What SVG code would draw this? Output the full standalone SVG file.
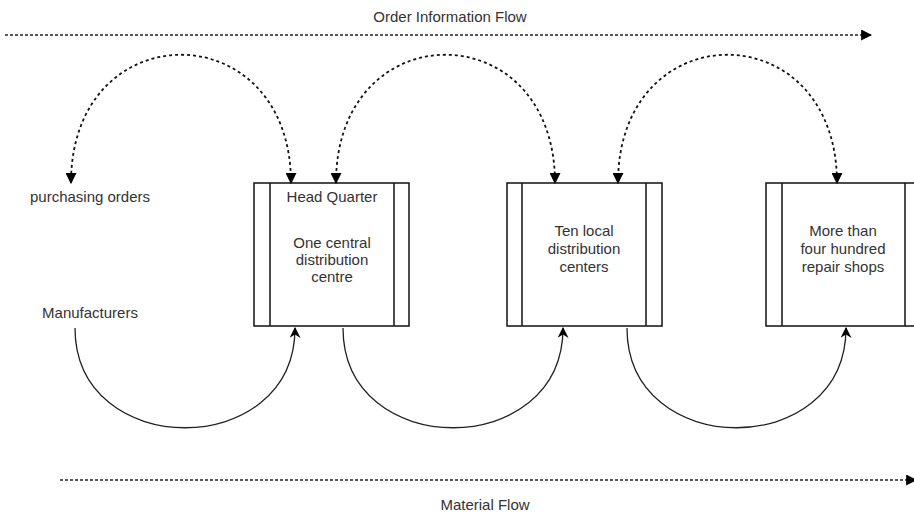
<svg xmlns="http://www.w3.org/2000/svg" width="914" height="515" viewBox="0 0 914 515">
<defs>
<marker id="ah" viewBox="0 0 10 10" refX="9" refY="5" markerWidth="11" markerHeight="11" markerUnits="userSpaceOnUse" orient="auto-start-reverse">
<path d="M0,0 L10,5 L0,10 Z" fill="#000"/>
</marker>
<marker id="ahs" viewBox="0 0 10 10" refX="9" refY="5" markerWidth="11" markerHeight="11" markerUnits="userSpaceOnUse" orient="auto">
<path d="M0,0 L10,5 L0,10 L3,5 Z" fill="#000"/>
</marker>
<style>
text{font-family:"Liberation Sans",Arial,sans-serif;font-size:15px;fill:#333;text-anchor:middle}
.box{fill:#fff;stroke:#111;stroke-width:1.5}
.dash{fill:none;stroke:#111;stroke-width:1.8;stroke-dasharray:3 3}
.flow{fill:none;stroke:#222;stroke-width:1.5;stroke-dasharray:3 2}
.solid{fill:none;stroke:#222;stroke-width:1.3}
</style>
</defs>
<rect width="914" height="515" fill="#fff"/>
<g id="labels">
<text x="450" y="22">Order Information Flow</text>
<text x="485" y="510">Material Flow</text>
<text x="90" y="202">purchasing orders</text>
<text x="90" y="318">Manufacturers</text>
</g>
<g id="node-hq">
<rect class="box" x="254" y="183" width="155" height="143"/>
<line class="box" x1="270" y1="183" x2="270" y2="326"/>
<line class="box" x1="394" y1="183" x2="394" y2="326"/>
<text x="332" y="202">Head Quarter</text>
<text x="332" y="248">One central</text>
<text x="332" y="265">distribution</text>
<text x="332" y="282">centre</text>
</g>
<g id="node-ldc">
<rect class="box" x="507" y="183" width="155" height="143"/>
<line class="box" x1="522" y1="183" x2="522" y2="326"/>
<line class="box" x1="646" y1="183" x2="646" y2="326"/>
<text x="584" y="236">Ten local</text>
<text x="584" y="254">distribution</text>
<text x="584" y="272">centers</text>
</g>
<g id="node-shops">
<rect class="box" x="766" y="183" width="155" height="143"/>
<line class="box" x1="782" y1="183" x2="782" y2="326"/>
<line class="box" x1="905" y1="183" x2="905" y2="326"/>
<text x="843" y="236">More than</text>
<text x="843" y="254">four hundred</text>
<text x="843" y="272">repair shops</text>
</g>
<g id="connectors">
<line class="flow" x1="5" y1="35" x2="871" y2="35" marker-end="url(#ah)"/>
<line class="flow" x1="60" y1="480" x2="916" y2="480" marker-end="url(#ah)"/>
<path class="dash" d="M291 183 C291 12, 71 12, 71 183" marker-start="url(#ah)" marker-end="url(#ah)"/>
<path class="dash" d="M336 183 C336 12, 555 12, 555 183" marker-start="url(#ah)" marker-end="url(#ah)"/>
<path class="dash" d="M618 183 C618 12, 837 12, 837 183" marker-start="url(#ah)" marker-end="url(#ah)"/>
<path class="solid" d="M75 328 C75 461, 295 461, 295 328" marker-end="url(#ahs)"/>
<path class="solid" d="M343 328 C343 461, 563 461, 563 328" marker-end="url(#ahs)"/>
<path class="solid" d="M627 328 C627 461, 846 461, 846 328" marker-end="url(#ahs)"/>
</g>
</svg>
